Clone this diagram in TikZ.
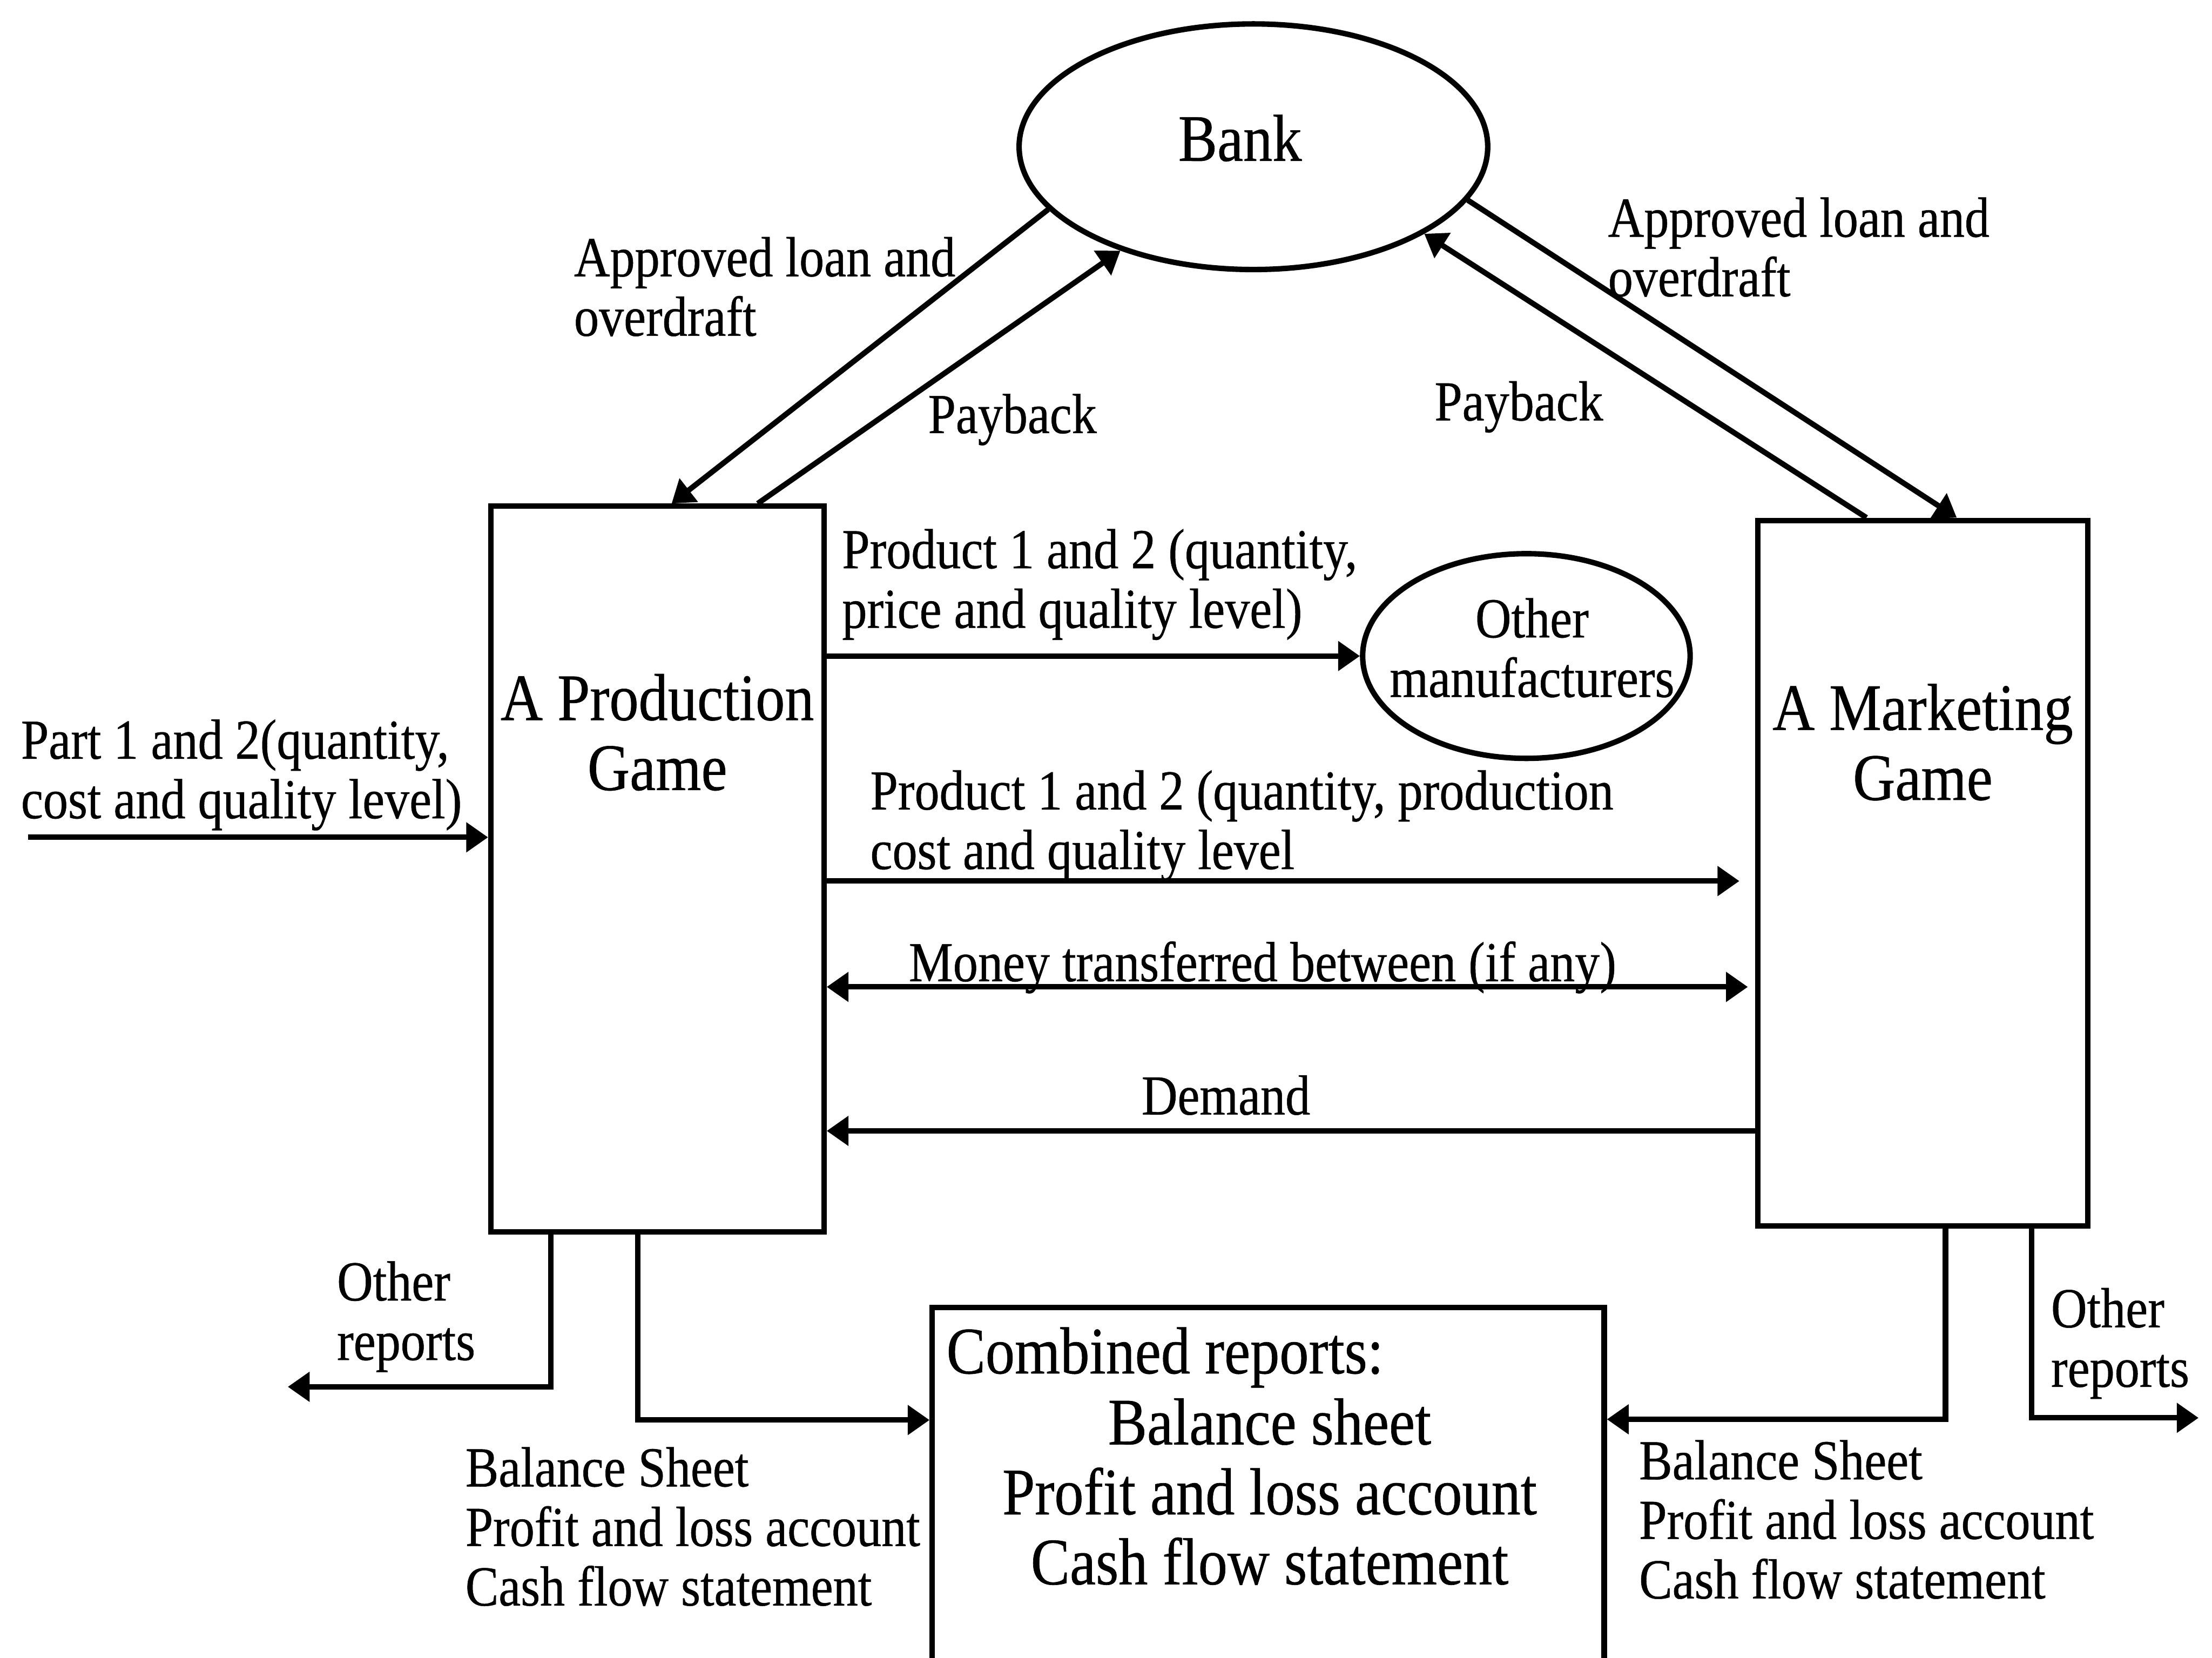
\documentclass[tikz,border=0pt]{standalone}
\usepackage{fontspec}
\setmainfont{Liberation Serif}[FakeStretch=0.88, FakeBold=0.5]
\usetikzlibrary{shapes.geometric,arrows.meta}

% text sizes used in the chart
\newcommand\fsLabel{\fontsize{11.4pt}{12pt}\selectfont}
\newcommand\fsHead{\fontsize{13.4pt}{14.1pt}\selectfont}

\begin{document}
\begin{tikzpicture}[x=0.01cm,y=-0.01cm,
  line width=1.1pt,
  >={Triangle[length=4.4pt,width=5.8pt]},
  gamebox/.style={draw, rectangle, inner sep=0pt},
  oval/.style={draw, ellipse, inner sep=0pt},
  lbl/.style={inner sep=0pt, align=left, anchor=base west, font=\fsLabel},
  head/.style={inner sep=0pt, align=center, anchor=base, font=\fsHead}]

\useasboundingbox (0,0) rectangle (1568,1175);
\clip (0,0) rectangle (1568,1175);

% ---- shapes ----
\node[oval, minimum width=3.32cm, minimum height=1.74cm] (bank) at (888.5,104) {};
\node[gamebox, minimum width=2.36cm, minimum height=5.14cm] (prod) at (466,616) {};
\node[gamebox, minimum width=2.34cm, minimum height=5.00cm] (mkt) at (1363,619) {};
\node[oval, minimum width=2.32cm, minimum height=1.45cm] (om) at (1082,465) {};
\node[gamebox, minimum width=4.76cm, minimum height=3.6cm, anchor=north] (comb) at (899,925) {};

% ---- texts inside shapes (multi-line nodes sit on their last baseline) ----
\node[head] (banktxt) at (879,114) {Bank};
\node[head] (prodtxt) at (466,560) {A Production\\Game};
\node[head] (mkttxt) at (1363,567) {A Marketing\\Game};
\node[lbl, anchor=base, align=center] (omtxt) at (1086,494) {Other\\manufacturers};
\node[head, anchor=base west, align=left] (combhead) at (669,973.5) {Combined reports:};
\node[head] (combtxt) at (900,1123) {Balance sheet\\Profit and loss account\\Cash flow statement};

% ---- connector labels ----
\node[lbl] (loanL) at (405,238) {Approved loan and\\overdraft};
\node[lbl] (payL) at (656,307) {Payback};
\node[lbl] (loanR) at (1138,210) {Approved loan and\\overdraft};
\node[lbl] (payR) at (1015,298) {Payback};
\node[lbl] (prodOM) at (595,445) {Product 1 and 2 (quantity,\\price and quality level)};
\node[lbl] (prodMk) at (615,616) {Product 1 and 2 (quantity, production\\cost and quality level};
\node[lbl, anchor=base] (money) at (895,695.5) {Money transferred between (if any)};
\node[lbl, anchor=base] (demand) at (869,790) {Demand};
\node[lbl] (parts) at (13,580) {Part 1 and 2(quantity,\\cost and quality level)};
\node[lbl] (othL) at (237,964) {Other\\reports};
\node[lbl] (othR) at (1452,983) {Other\\reports};
\node[lbl] (bsL) at (328,1138) {Balance Sheet\\Profit and loss account\\Cash flow statement};
\node[lbl] (bsR) at (1160,1133) {Balance Sheet\\Profit and loss account\\Cash flow statement};

% ---- bank flows ----
\draw[->] (bank.197.6) -- ([xshift=1.30cm]prod.north west);
\draw[->] ([xshift=1.91cm]prod.north west) -- (bank.218.6);
\draw[->] ([xshift=0.79cm]mkt.north west) -- (bank.333.3);
\draw[->] (bank.346) -- ([xshift=1.43cm]mkt.north west);

% ---- horizontal flows ----
\draw[->] (prod.east |- om.west) -- (om.west);
\coordinate (pm) at ([yshift=-0.085cm]prod.east);
\draw[->, shorten >=0.11cm] (pm) -- (pm -| mkt.west);
\coordinate (mn) at ([yshift=-0.835cm]prod.east);
\draw[<->, shorten >=0.05cm] (mn) -- (mn -| mkt.west);
\coordinate (dm) at ([yshift=-1.855cm]prod.east);
\draw[->] (dm -| mkt.west) -- (dm);
\coordinate (pin) at (20,593.5);
\draw[->] (pin) -- (pin -| prod.west);

% ---- report flows ----
\coordinate (orL) at (204,983);
\draw[->] ([xshift=0.445cm]prod.south west) |- (orL);
\coordinate (cbL) at ([yshift=-0.815cm]comb.north west);
\draw[->] ([xshift=1.06cm]prod.south west) |- (cbL);
\coordinate (cbR) at ([yshift=-0.81cm]comb.north east);
\draw[->] ([xshift=1.35cm]mkt.south west) |- (cbR);
\coordinate (orR) at (1558.5,1005);
\draw[->] ([xshift=1.96cm]mkt.south west) |- (orR);

\end{tikzpicture}
\end{document}
